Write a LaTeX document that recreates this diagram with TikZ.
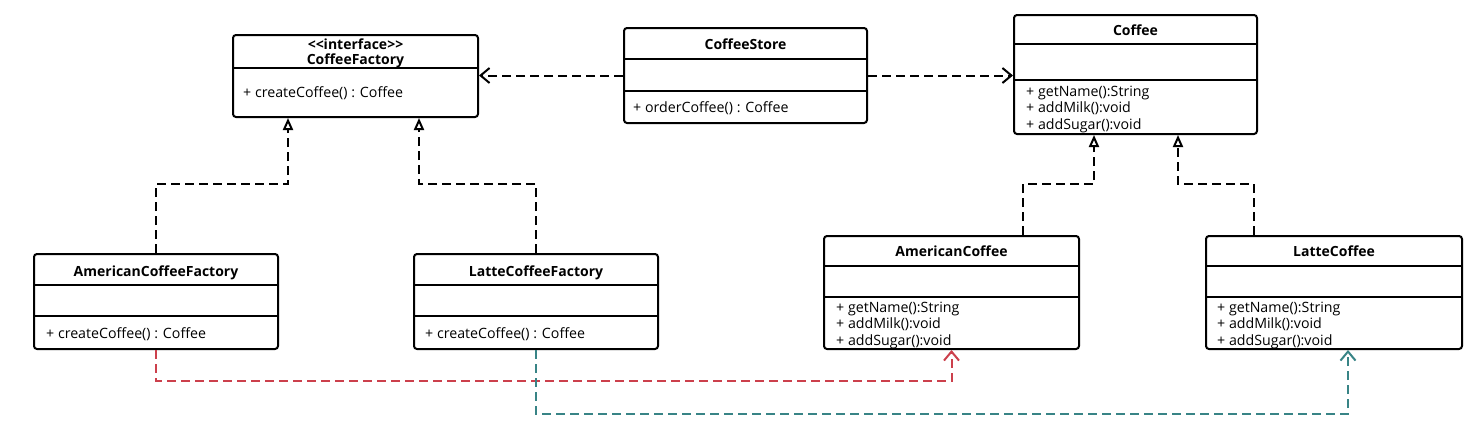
\documentclass[tikz,border=0pt]{standalone}
\usepackage{fontspec}
\setmainfont{Open Sans}
\usepackage{tikz}
\usetikzlibrary{arrows.meta, positioning, calc}
\definecolor{depred}{RGB}{204,64,76}
\definecolor{depteal}{RGB}{56,132,134}
\tikzset{
  classbox/.style={draw=black, line width=2pt, rounded corners=3pt, anchor=north west, inner sep=0pt},
  divider/.style={line width=1.8pt},
  classname/.style={anchor=base, inner sep=0pt, font=\fontsize{14}{16}\selectfont\bfseries},
  member/.style={anchor=base west, inner sep=0pt, font=\fontsize{14.2}{16}\selectfont},
  dep/.style={line width=2pt, dash pattern=on 9pt off 5pt, -{Straight Barb[length=9pt, width=15pt]}},
  impl/.style={line width=2pt, dash pattern=on 9pt off 5pt, -{Triangle[open, length=12pt, width=10pt]}}
}

\begin{document}
\begin{tikzpicture}[x=1pt, y=-1pt]
    \fill [white] (0,0) rectangle (1476,434);%background

    %creates the class boxes
    \node (factory) [classbox, minimum width=245pt, minimum height=82pt] at (232,34) {};%draws CoffeeFactory
    \node (store) [classbox, minimum width=243pt, minimum height=95pt] at (623,27) {};%draws CoffeeStore
    \node (coffee) [classbox, minimum width=243pt, minimum height=119pt] at (1013,14) {};%draws Coffee
    \node (amfac) [classbox, minimum width=244pt, minimum height=95pt] at (33,253) {};%draws AmericanCoffeeFactory
    \node (latfac) [classbox, minimum width=244pt, minimum height=95pt] at (413,253) {};%draws LatteCoffeeFactory
    \node (amcof) [classbox, minimum width=255pt, minimum height=113pt] at (823,235) {};%draws AmericanCoffee
    \node (latcof) [classbox, minimum width=256pt, minimum height=113pt] at (1205,235) {};%draws LatteCoffee

    %draws the compartment lines
    \foreach \b/\y in {factory/68, store/59, store/91, coffee/44, coffee/80, amfac/285, amfac/316,
      latfac/285, latfac/316, amcof/266, amcof/297, latcof/266, latcof/297}
      \draw [divider] (\b.west |- 0,\y) -- (\b.east |- 0,\y);

    %class names
    \node (factoryS) [classname] at (factory.north |- 0,49) {<{}<interface>{}>};%stereotype
    \node (factoryN) [classname] at (factory.north |- 0,64) {CoffeeFactory};
    \node (storeN) [classname] at (store.north |- 0,49) {CoffeeStore};
    \node (coffeeN) [classname] at (coffee.north |- 0,35) {Coffee};
    \node (amfacN) [classname] at (amfac.north |- 0,276) {AmericanCoffeeFactory};
    \node (latfacN) [classname] at (latfac.north |- 0,276) {LatteCoffeeFactory};
    \node (amcofN) [classname] at (amcof.north |- 0,256) {AmericanCoffee};
    \node (latcofN) [classname] at (latcof.north |- 0,256) {LatteCoffee};

    %methods
    \node (factoryM) [member] at (243,97) {+ createCoffee() : Coffee};
    \node (storeM) [member] at (633,112) {+ orderCoffee() : Coffee};
    \node (amfacM) [member] at (46,338) {+ createCoffee() : Coffee};
    \node (latfacM) [member] at (425,338) {+ createCoffee() : Coffee};
    \foreach \b/\x/\y in {coffee/1026/96, amcof/836/312, latcof/1217/312}
      \foreach \m [count=\i from 0] in {getName():String, addMilk():void, addSugar():void}
        \node (\b M\i) [member] at (\x,\y+16.5*\i) {+ \m};

    %dependencies of CoffeeStore
    \draw [dep] (store.west) -- (store.west -| factory.east);
    \draw [dep] (store.east) -- (store.east -| coffee.west);

    %realizations
    \coordinate (fa1) at ([xshift=-67.5pt]factory.south);
    \coordinate (fa2) at ([xshift=63.5pt]factory.south);
    \coordinate (co1) at ([xshift=-41.5pt]coffee.south);
    \coordinate (co2) at ([xshift=42.5pt]coffee.south);
    \draw [impl] (amfac.north) |- (fa1 |- 0,184) -- (fa1);
    \draw [impl] (latfac.north) |- (fa2 |- 0,184) -- (fa2);
    \draw [impl] ([xshift=71.5pt]amcof.north) |- (co1 |- 0,184) -- (co1);
    \draw [impl] ([xshift=-80.5pt]latcof.north) |- (co2 |- 0,184) -- (co2);

    %factories create the coffees
    \coordinate (rd) at (amcof.south);
    \coordinate (td) at ([xshift=14pt]latcof.south);
    \draw [dep, depred] (amfac.south) |- (rd |- 0,381) -- (rd);
    \draw [dep, depteal] (latfac.south) |- (td |- 0,414) -- (td);
\end{tikzpicture}
\end{document}
